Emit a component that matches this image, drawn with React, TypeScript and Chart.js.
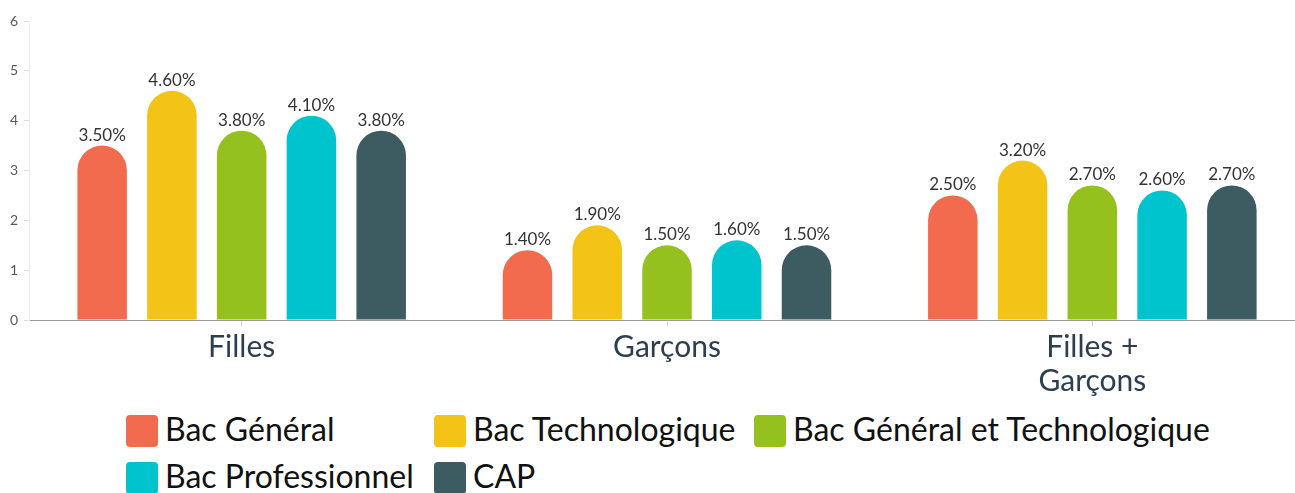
import React, { useEffect, useRef } from "react";
import { Chart, registerables } from "chart.js";

Chart.register(...registerables);

const categories: string[][] = [["Filles"], ["Garçons"], ["Filles +", "Garçons"]];
const seriesNames = [
  "Bac Général",
  "Bac Technologique",
  "Bac Général et Technologique",
  "Bac Professionnel",
  "CAP",
];
const bacGeneral = [3.5, 1.4, 2.5];
const bacTechnologique = [4.6, 1.9, 3.2];
const bacGeneralTechno = [3.8, 1.5, 2.7];
const bacProfessionnel = [4.1, 1.6, 2.6];
const capValues = [3.8, 1.5, 2.7];
const seriesColors = ["#F36B4F", "#F3C316", "#95C11F", "#00C4CD", "#3C5C61"];
const yMin = 0;
const yMax = 6;
const yStep = 1;

const seriesValues = [bacGeneral, bacTechnologique, bacGeneralTechno, bacProfessionnel, capValues];

const FONT = "Lato, 'Noto Sans', sans-serif";

const valueLabels = {
  id: "valueLabels",
  afterDatasetsDraw(chart: any) {
    const ctx = chart.ctx;
    ctx.save();
    ctx.font = `17px ${FONT}`;
    ctx.fillStyle = "#333333";
    ctx.textAlign = "center";
    ctx.textBaseline = "alphabetic";
    chart.data.datasets.forEach((ds: any, i: number) => {
      chart.getDatasetMeta(i).data.forEach((bar: any, j: number) => {
        ctx.fillText(Number(ds.data[j]).toFixed(2) + "%", bar.x, bar.y - 5);
      });
    });
    ctx.restore();
  },
};

export default function App() {
  const canvasRef = useRef<HTMLCanvasElement | null>(null);

  useEffect(() => {
    if (!canvasRef.current) return;
    const chart = new Chart(canvasRef.current, {
      type: "bar",
      data: {
        labels: categories,
        datasets: seriesNames.map((name, i) => ({
          label: name,
          data: seriesValues[i],
          backgroundColor: seriesColors[i],
          borderWidth: 0,
          borderRadius: { topLeft: 40, topRight: 40, bottomLeft: 0, bottomRight: 0 },
          borderSkipped: "bottom",
          categoryPercentage: 0.82,
          barPercentage: 0.71,
        })),
      },
      options: {
        responsive: false,
        animation: false,
        layout: { padding: { top: 21, right: 5, left: 0, bottom: 0 } },
        plugins: {
          legend: { display: false },
          tooltip: { enabled: false },
        },
        scales: {
          x: {
            offset: true,
            grid: {
              display: true,
              drawOnChartArea: false,
              offset: false,
              tickLength: 6,
              color: "#cccccc",
            },
            border: { display: true, color: "#9a9a9a", width: 1 },
            ticks: {
              font: { family: FONT, size: 30, lineHeight: 1.15 },
              color: "#2c3e50",
              padding: 4,
              maxRotation: 0,
              autoSkip: false,
            },
            afterFit: (s: any) => {
              s.height = 80;
            },
          },
          y: {
            min: yMin,
            max: yMax,
            ticks: {
              stepSize: yStep,
              font: { family: FONT, size: 14 },
              color: "#4f5965",
              padding: 6,
            },
            grid: {
              display: true,
              drawOnChartArea: false,
              tickLength: 5,
              color: "#dddddd",
            },
            border: { display: true, color: "#eeeeee" },
            afterFit: (s: any) => {
              s.width = 29;
            },
          },
        },
      },
      plugins: [valueLabels],
    });
    return () => chart.destroy();
  }, []);

  return (
    <div
      style={{
        position: "absolute",
        left: 0,
        top: 0,
        width: 1295,
        height: 493,
        overflow: "hidden",
        background: "#ffffff",
      }}
    >
      <canvas ref={canvasRef} width={1310} height={400} style={{ position: "absolute", left: 0, top: 0 }} />
      <div
        style={{
          position: "absolute",
          left: 126,
          top: 415,
          display: "grid",
          gridTemplateColumns: "308px 320px auto",
          rowGap: 15,
          fontFamily: FONT,
        }}
      >
        {seriesNames.map((name, i) => (
          <div key={name} style={{ display: "flex", alignItems: "center", height: 32 }}>
            <span
              style={{
                display: "inline-block",
                width: 32,
                height: 32,
                borderRadius: 4,
                background: seriesColors[i],
                marginRight: 7,
                flex: "none",
              }}
            />
            <span
              style={{
                fontSize: 32,
                lineHeight: "32px",
                color: "#111111",
                whiteSpace: "nowrap",
                position: "relative",
                top: -2,
              }}
            >
              {name}
            </span>
          </div>
        ))}
      </div>
    </div>
  );
}
